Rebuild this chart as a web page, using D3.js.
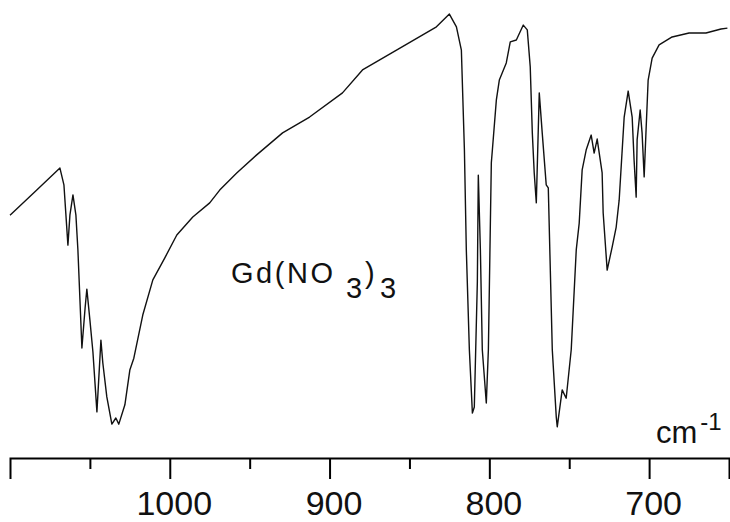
<!DOCTYPE html>
<html>
<head>
<meta charset="utf-8">
<script src="https://cdn.jsdelivr.net/npm/d3@7"></script>
<style>
  body { margin: 0; background: #fff; }
  svg { display: block; }
</style>
</head>
<body>
<div id="chart"></div>
<script>
// Wavenumbers (cm-1), left to right
const wavenumber = [1100, 1084.4, 1068.75, 1066.25, 1063.75, 1062.5, 1060.6, 1058.75, 1057.5, 1055,
  1053, 1051.9, 1050, 1048.1, 1045.6, 1043.1, 1041.9, 1039.4, 1036.25, 1033.75, 1031.9,
  1028.1, 1025, 1022.5, 1016.9, 1010.6, 1003.1, 995.6, 985.6, 975, 968.75, 958.1, 945.6,
  929.4, 912.5, 891.9, 879.4, 858.1, 833.1, 825, 820.6, 817.5, 815.6, 814.4, 812.5, 810.6,
  809.4, 807.5, 806.9, 805.6, 804.4, 801.9, 800.6, 798.75, 798.1, 795.6, 793.75, 789.4,
  786.9, 783.1, 778.75, 776.25, 774.4, 773.1, 771.9, 770.6, 768.75, 766.9, 764.4, 763.1,
  760.6, 758.1, 757.5, 754.4, 751.9, 748.75, 745.6, 743.75, 741.9, 739.4, 736.25, 734.4,
  732.5, 729.4, 728.75, 726.25, 723.1, 720.6, 718.75, 715.6, 713.1, 710.6, 709.4, 708.1,
  707.5, 705.6, 704.4, 703.1, 701.9, 700.6, 698.1, 693.75, 685.6, 675, 664.4, 655, 651];

// Transmittance (arbitrary %, 0 = bottom of the bands)
const transmittance = [51.1, 56.4, 61.8, 58.0, 44.3, 51.1, 55.7, 51.1, 43.2, 20.9,
  30.0, 34.3, 27.3, 20.0, 6.4, 22.7, 17.5, 9.8, 3.6, 5.0, 3.6,
  8.0, 15.9, 18.6, 28.4, 36.4, 41.4, 46.6, 50.7, 53.9, 56.8, 60.7, 64.8,
  69.8, 73.4, 78.9, 84.1, 88.6, 93.9, 96.8, 93.9, 88.6, 65.9, 43.2, 20.5, 6.1,
  7.5, 35.9, 60.2, 43.2, 20.5, 8.4, 20.5, 63.0, 65.9, 77.3, 81.8, 85.7,
  90.5, 90.9, 94.3, 93.2, 84.8, 69.8, 60.7, 53.9, 78.9, 69.8, 58.0, 57.3,
  20.5, 5.2, 3.0, 11.4, 9.5, 20.5, 43.2, 49.3, 61.4, 65.9, 69.3, 65.2,
  68.4, 60.7, 51.6, 38.6, 43.9, 48.4, 54.5, 73.4, 79.3, 73.4, 63.6, 55.2,
  68.2, 75.0, 69.8, 59.8, 70.5, 81.8, 86.8, 89.8, 91.6, 92.5, 92.5, 93.4, 93.6];

const majorTicks = [1000, 900, 800, 700];
const minorTicks = [1050, 950, 850, 750];

const width = 730;
const height = 522;

const x = d3.scaleLinear().domain([1100, 650]).range([10, 729]);
const y = d3.scaleLinear().domain([0, 100]).range([440, 0]);

const svg = d3.select("#chart").append("svg")
    .attr("width", width)
    .attr("height", height);

// Spectrum trace
const points = wavenumber.map((w, i) => [w, transmittance[i]]);
svg.append("path")
    .datum(points)
    .attr("fill", "none")
    .attr("stroke", "#111")
    .attr("stroke-width", 1.4)
    .attr("stroke-linejoin", "round")
    .attr("d", d3.line().x(d => x(d[0])).y(d => y(d[1])));

// Axis: major ticks with labels, ends drawn as outer ticks
const axisY = 458;
svg.append("g")
    .attr("transform", `translate(0,${axisY})`)
    .call(d3.axisBottom(x).tickValues(majorTicks).tickSize(21).tickSizeOuter(21)
        .tickPadding(12).tickFormat(d3.format("d")))
    .call(g => g.select(".domain").attr("stroke-width", 2))
    .call(g => g.selectAll(".tick line").attr("stroke-width", 2))
    .call(g => g.selectAll(".tick text")
        .attr("dx", 4)
        .attr("font-family", "'Liberation Sans', Arial, sans-serif")
        .attr("font-size", 34)
        .attr("fill", "#111"));

// Minor ticks
svg.append("g")
    .attr("transform", `translate(0,${axisY})`)
    .call(d3.axisBottom(x).tickValues(minorTicks).tickSize(11).tickSizeOuter(0).tickFormat(""))
    .call(g => g.select(".domain").remove())
    .call(g => g.selectAll(".tick line").attr("stroke-width", 2));

// Unit label
const unit = svg.append("text")
    .attr("x", 656)
    .attr("y", 443)
    .attr("font-family", "'Liberation Sans', Arial, sans-serif")
    .attr("font-size", 31)
    .attr("fill", "#111");
unit.append("tspan").text("cm");
unit.append("tspan").attr("dx", 3).attr("dy", -13).attr("font-size", 24).text("-1");

// Compound label Gd(NO3)3
const labelFont = "'Liberation Sans', Arial, sans-serif";
const label = svg.append("g")
    .attr("font-family", labelFont)
    .attr("font-size", 29)
    .attr("fill", "#111");
label.append("text")
    .attr("x", 231).attr("y", 283)
    .attr("textLength", 102).attr("lengthAdjust", "spacing")
    .text("Gd(NO");
label.append("text").attr("x", 346).attr("y", 298).text("3");
label.append("text").attr("x", 365).attr("y", 283).text(")");
label.append("text").attr("x", 380).attr("y", 298).text("3");
</script>
</body>
</html>
